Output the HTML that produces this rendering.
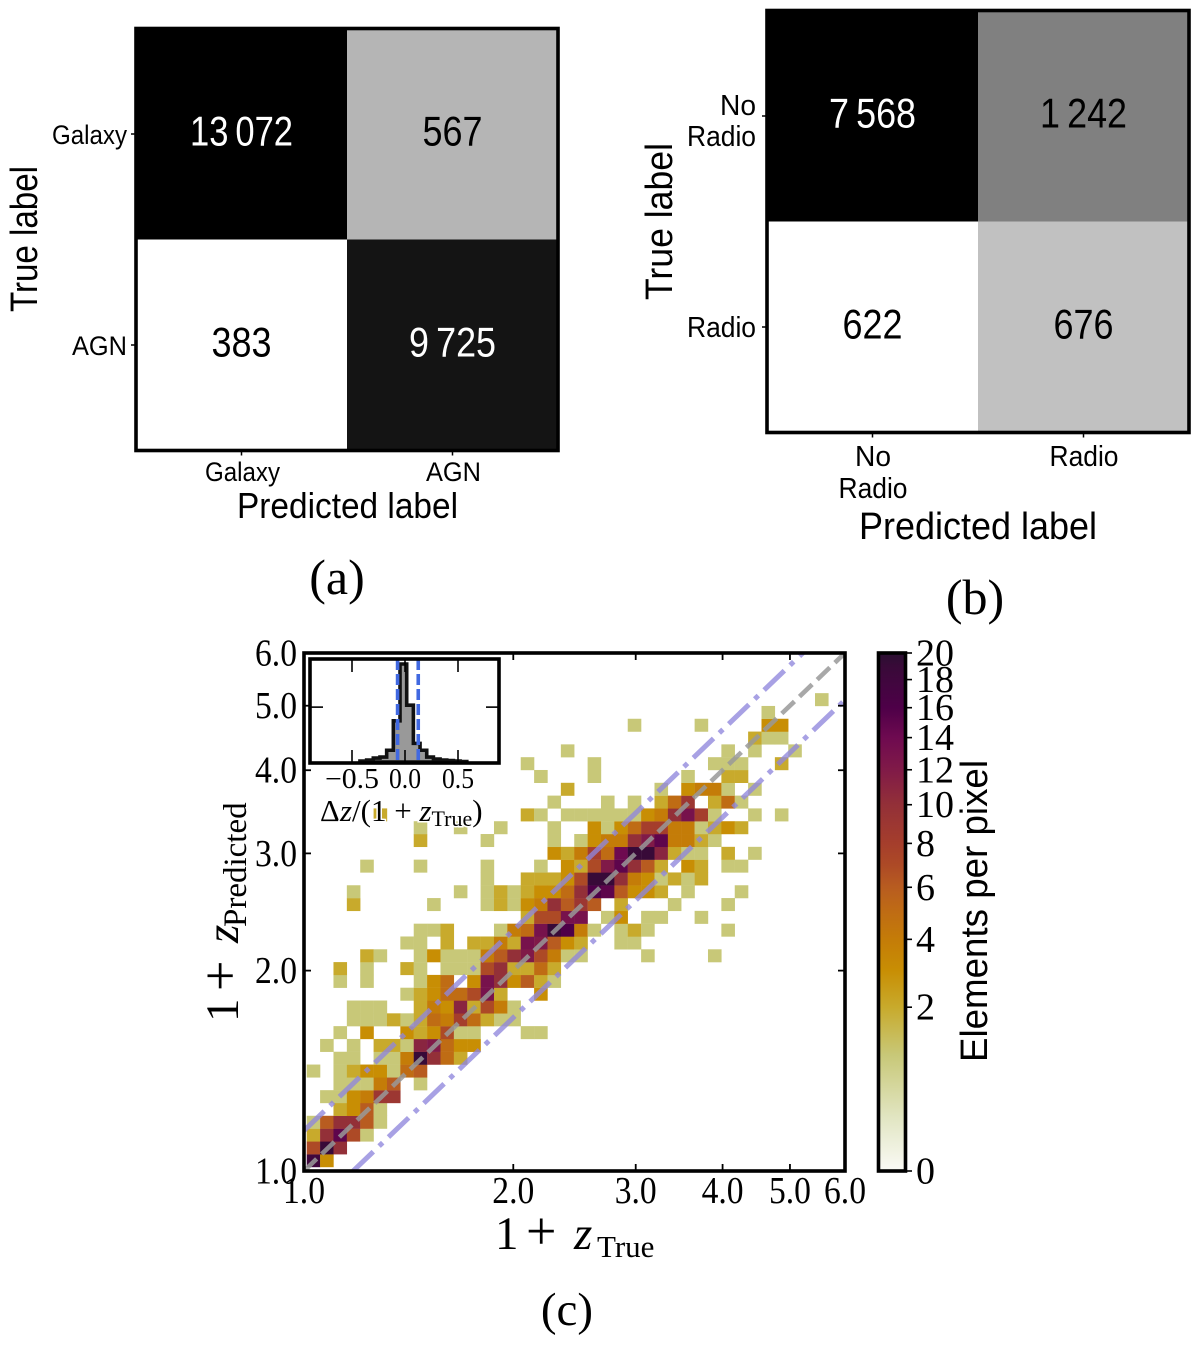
<!DOCTYPE html>
<html lang="en">
<head>
<meta charset="utf-8">
<title>Confusion matrices and redshift density plot</title>
<style>
html,body{margin:0;padding:0;background:#fff;}
svg{display:block;}
.sans{font-family:"Liberation Sans",sans-serif;}
.serif{font-family:"Liberation Serif",serif;}
</style>
</head>
<body>
<svg id="fig" xmlns="http://www.w3.org/2000/svg" width="1200" height="1348" viewBox="0 0 1200 1348">
  <rect x="0" y="0" width="1200" height="1348" fill="#fff"/>
  <g id="matrixA"></g>
  <g id="matrixB"></g>

  <text class="sans" x="0" y="0" transform="translate(37,312) rotate(-90)" font-size="38" textLength="146" lengthAdjust="spacingAndGlyphs">True label</text>
  <text class="sans" x="237" y="518" font-size="36" textLength="221" lengthAdjust="spacingAndGlyphs">Predicted label</text>
  <text class="serif" x="337" y="594" font-size="50" text-anchor="middle">(a)</text>

  <text class="sans" x="0" y="0" transform="translate(672,300) rotate(-90)" font-size="38" textLength="157" lengthAdjust="spacingAndGlyphs">True label</text>
  <text class="sans" x="859" y="539" font-size="38" textLength="238" lengthAdjust="spacingAndGlyphs">Predicted label</text>
  <text class="serif" x="975" y="614" font-size="50" text-anchor="middle">(b)</text>

  <defs>
    <clipPath id="plotClip"><rect x="304" y="653" width="541" height="518"/></clipPath>
    <clipPath id="insetClip"><rect x="310" y="659" width="189" height="104"/></clipPath>
    <linearGradient id="cbarGradient" x1="0" y1="1" x2="0" y2="0"></linearGradient>
  </defs>

  <g id="heatmap"></g>
  <g id="refLines" clip-path="url(#plotClip)"></g>
  <g id="mainTicks"></g>
  <rect x="304" y="653" width="541" height="518" fill="none" stroke="#000" stroke-width="3.6"/>

  <text class="serif" y="1249" font-size="47"><tspan x="495">1</tspan><tspan x="526" font-size="54">+</tspan><tspan x="574" font-style="italic">z</tspan><tspan x="597" dy="8" font-size="31">True</tspan></text>
  <text class="serif" y="0" font-size="47" transform="translate(238,1022) rotate(-90)"><tspan x="0">1</tspan><tspan x="31" font-size="54">+</tspan><tspan x="79" font-style="italic">z</tspan><tspan x="95" dy="8" font-size="33">Predicted</tspan></text>
  <text class="serif" x="567" y="1325" font-size="47" text-anchor="middle">(c)</text>

  <g id="inset"></g>
  <text class="serif" x="320" y="821" font-size="31" stroke="#fff" stroke-width="3" paint-order="stroke">Δ<tspan font-style="italic">z</tspan>/(1 + <tspan font-style="italic">z</tspan><tspan dy="5" font-size="22">True</tspan><tspan dy="-5">)</tspan></text>

  <g id="colorbar"></g>
  <text class="sans" x="0" y="0" transform="translate(987,1062) rotate(-90)" font-size="38" textLength="302" lengthAdjust="spacingAndGlyphs">Elements per pixel</text>
</svg>
<script>
// ---- Confusion matrix data ----
const matrixACounts = [["13\u2009072","567"],["383","9\u2009725"]];
const matrixALabels = ["Galaxy","AGN"];
const matrixAShades = [[0,0.71],[1,0.08]];
const matrixBCounts = [["7\u2009568","1\u2009242"],["622","676"]];
const matrixBLabels = [["No","Radio"],["Radio"]];
const matrixBShades = [[0,0.5],[1,0.755]];

// ---- Density heatmap data: one entry per predicted-bin row (bottom to top) ----
const cellColumns = [
 [0,1],
 [0,1,2],
 [0,1,2,3,4],
 [0,1,2,3,4,5],
 [2,3,4,5],
 [1,2,3,4,5,6],
 [2,3,4,5,6,8],
 [0,2,3,4,5,6,7,8],
 [2,3,5,6,7,8,9,10,11],
 [1,3,5,6,7,8,9,10,11,12],
 [2,4,7,8,9,10,11,12,16,17],
 [3,4,5,6,7,8,9,10,11,12,13,14,15],
 [3,4,5,8,9,10,11,12,13,14,15],
 [7,8,9,10,11,12,13,14,17],
 [2,4,8,9,10,12,13,14,15,16,17,18],
 [2,4,7,8,10,11,12,13,14,15,16,17,18],
 [4,5,8,9,10,11,12,13,14,15,16,17,18,19,20,25,30],
 [7,8,10,12,13,14,15,16,17,18,19,20,23,24],
 [8,9,10,14,15,16,17,18,19,20,21,23,24,25,31],
 [16,17,18,19,20,22,23,25,26,29],
 [3,9,13,14,15,16,17,18,19,20,21,23,27,31],
 [3,11,13,14,15,16,17,18,19,20,21,22,23,24,25,26,28,32],
 [13,16,17,18,19,20,21,22,23,24,25,26,27,28,29],
 [4,8,13,17,19,20,21,22,23,24,25,26,28,29,31,32],
 [18,19,20,21,22,23,24,25,26,27,28,29,31,33],
 [8,13,18,20,21,22,23,24,25,26,27,28,29,30],
 [8,11,14,18,21,22,23,24,25,26,27,28,29,30,31,32],
 [5,16,17,19,20,21,22,23,24,25,26,27,28,29,30,33,35],
 [18,22,24,26,27,28,30,31,32],
 [19,26,28,29,30,31,33],
 [17,21,28,31,32],
 [16,21,30,31,32,35],
 [19,31,33,36],
 [33,34,35],
 [24,29,34,35],
 [34],
 [38]
];
const cellCounts = [
 [18,3],
 [7,19,10],
 [2,10,15,7,1],
 [1,6,10,10,6,1],
 [2,3,6,1],
 [1,1,3,4,9,9],
 [1,1,1,4,6,1],
 [1,1,2,3,3,1,5,6],
 [1,1,1,1,4,19,10,5,2],
 [1,1,2,2,1,11,12,5,3,3],
 [1,3,3,2,3,7,1,1,1,1],
 [1,1,1,2,1,2,5,4,8,5,2,1,1],
 [1,1,1,2,4,3,11,2,7,4,1],
 [1,2,3,5,5,7,13,2,3],
 [1,1,1,3,5,3,13,10,3,6,2,1],
 [2,1,2,1,1,1,1,7,10,2,2,5,2],
 [2,1,1,3,1,1,1,4,6,10,12,7,4,1,1,1,1],
 [1,1,2,2,2,4,2,13,12,6,3,2,1,1],
 [1,1,2,1,4,5,13,19,16,4,1,1,2,1,1],
 [2,7,7,13,13,1,3,1,1,1],
 [2,1,1,2,1,3,4,10,6,9,6,2,1,1],
 [1,1,1,2,1,2,3,3,5,10,16,15,6,3,3,2,1,1],
 [1,2,2,2,3,7,19,19,10,4,3,1,2,1,2],
 [1,1,1,1,3,2,7,12,15,10,6,2,3,2,1,1],
 [3,2,4,8,5,14,19,19,11,2,1,1,2,1],
 [2,1,1,1,3,4,4,10,12,15,4,4,2,1],
 [1,1,1,1,3,1,3,5,8,8,4,4,1,2,3,2],
 [2,2,1,1,1,1,1,1,1,3,4,10,13,8,1,1,1],
 [1,1,1,2,5,9,2,5,1],
 [2,1,3,4,4,1,1],
 [1,1,1,2,2],
 [1,1,1,1,1,2],
 [1,1,1,1],
 [2,1,1],
 [1,1,3,3],
 [1],
 [1]
];

// ---- Axis ticks ----
const xTickValues = [1,2,3,4,5,6];
const xTickLabels = ["1.0","2.0","3.0","4.0","5.0","6.0"];
const yTickValues = [1,2,3,4,5,6];
const yTickLabels = ["1.0","2.0","3.0","4.0","5.0","6.0"];
const colorbarTicks = [0,2,4,6,8,10,12,14,16,18,20];

// ---- Reference lines: predicted = slope * true ----
const identitySlope = [1];
const outlierSlopes = [1.15,0.85];

// ---- Inset histogram ----
const histStart = [-0.425];
const histBinWidth = [0.063];
const histValues = [1,2,4,5,12,42,100,58,19,12,5,3,2,1.5,1,0.5];
const insetXTicks = [-0.5,0,0.5];
const insetXTickLabels = ["\u22120.5","0.0","0.5"];
const insetYTicks = [56];
const insetThresholds = [-0.07,0.125];

// ---- Axis functions ----
const SVGNS = 'http://www.w3.org/2000/svg';
function make(parent, tag, attrs, text){
  const node = document.createElementNS(SVGNS, tag);
  for (const k in attrs) node.setAttribute(k, attrs[k]);
  if (text !== undefined) node.textContent = text;
  parent.appendChild(node);
  return node;
}
function xAxis(v){ return 304 + 541 * Math.log(v) / Math.log(6); }
function yAxis(v){ return 1171 - 518 * Math.log(v) / Math.log(6); }
const binLog = 0.0443;
function xEdge(c){ return Math.exp(0.009 + binLog * c); }
function yEdge(r){ return Math.exp(0.0138 + binLog * r); }
function colorNorm(v){ return Math.sqrt(v / 20); }
function cbarY(v){ return 1171 - 518 * colorNorm(v); }
function insetX(v){ return 405 + 106 * v; }
function insetY(h){ return 762 - 0.98 * h; }

const cmapStops = [
 [0,[250,250,246]],[0.1,[226,230,196]],[0.2236,[200,200,120]],[0.316,[200,170,44]],
 [0.387,[200,142,4]],[0.447,[196,124,8]],[0.5,[191,108,20]],[0.548,[184,92,32]],
 [0.59,[173,74,38]],[0.632,[165,62,44]],[0.707,[147,48,56]],[0.775,[128,26,72]],
 [0.837,[110,10,80]],[0.894,[78,0,72]],[0.975,[56,10,56]],[1,[42,16,48]]
];
function cmap(t){
  for (let i = 1; i < cmapStops.length; i++){
    const a = cmapStops[i-1], b = cmapStops[i];
    if (t <= b[0]){
      const f = (t - a[0]) / (b[0] - a[0]);
      return 'rgb(' + [0,1,2].map(k => Math.round(a[1][k] + (b[1][k]-a[1][k]) * f)).join(',') + ')';
    }
  }
  return 'rgb(42,16,48)';
}

// ---- Confusion matrices ----
function drawMatrix(group, box, counts, shades, prefix){
  const w = box.size / 2;
  for (let r = 0; r < 2; r++){
    for (let c = 0; c < 2; c++){
      const g = Math.round(255 * shades[r][c]);
      const cell = make(group, 'rect', {x: box.x + c*w, y: box.y + r*w, width: w, height: w, fill: 'rgb('+g+','+g+','+g+')'});
      
      
      const str = counts[r][c];
      const len = str.replace('\u2009','').length >= 5 ? 103 : (str.length === 5 ? 87 : 60);
      const t = make(group, 'text', {class:'sans', x: box.x + c*w + w/2, y: box.y + r*w + box.textDrop, 'font-size': 42, 'text-anchor':'middle', textLength: len, lengthAdjust:'spacingAndGlyphs', fill: shades[r][c] < 0.4 ? '#fff' : '#000'}, str);
      
      
    }
  }
  const frame = make(group, 'rect', {x: box.x, y: box.y, width: box.size, height: box.size, fill:'none', stroke:'#000', 'stroke-width':3.6});
  
  
  for (let i = 0; i < 2; i++){
    const p = w * i + w / 2;
    const yt = make(group, 'line', {x1: box.x-5, x2: box.x, y1: box.y+p, y2: box.y+p, stroke:'#000', 'stroke-width':1.5});
    
    
    const xt = make(group, 'line', {x1: box.x+p, x2: box.x+p, y1: box.y+box.size, y2: box.y+box.size+5, stroke:'#000', 'stroke-width':1.5});
    
    
  }
}
const gA = document.getElementById('matrixA');
const gB = document.getElementById('matrixB');
drawMatrix(gA, {x:136, y:28.5, size:422, textDrop:117}, matrixACounts, matrixAShades, 'matrix-a');
drawMatrix(gB, {x:767, y:10.5, size:422, textDrop:117}, matrixBCounts, matrixBShades, 'matrix-b');

matrixALabels.forEach(function(label, i){
  const widths = label.length > 3 ? 75 : 55;
  const yl = make(gA, 'text', {class:'sans', x:127, y:144 + 211*i, 'font-size':27, 'text-anchor':'end', textLength:widths, lengthAdjust:'spacingAndGlyphs'}, label);
  
  
  const xl = make(gA, 'text', {class:'sans', x:242.5 + 211*i, y:481, 'font-size':27, 'text-anchor':'middle', textLength:widths, lengthAdjust:'spacingAndGlyphs'}, label);
  
  
});
matrixBLabels.forEach(function(lines, i){
  lines.forEach(function(label, j){
    const widths = label.length > 2 ? 69 : 36;
    const yTop = lines.length > 1 ? 115 : 337;
    const yl = make(gB, 'text', {class:'sans', x:756, y:yTop + 31*j, 'font-size':29, 'text-anchor':'end', textLength:widths, lengthAdjust:'spacingAndGlyphs'}, label);
    
    
    const xl = make(gB, 'text', {class:'sans', x:873 + 211*i, y:466 + 32*j, 'font-size':29, 'text-anchor':'middle', textLength:widths, lengthAdjust:'spacingAndGlyphs'}, label);
    
    
  });
});

// ---- Heatmap cells ----
const heat = document.getElementById('heatmap');
cellColumns.forEach(function(cols, r){
  cols.forEach(function(c, i){
    const x0 = xAxis(xEdge(c)), x1 = xAxis(xEdge(c + 1));
    const yBottom = yAxis(yEdge(r)), yTop = yAxis(yEdge(r + 1));
    const cell = make(heat, 'rect', {x:x0, y:yTop, width:x1-x0+0.2, height:yBottom-yTop+0.2, fill:cmap(colorNorm(cellCounts[r][i]))});
    
    
  });
});

// ---- Reference lines ----
const lineGroup = document.getElementById('refLines');
function refLine(slope, attrs){
  const startX = Math.max(1, 1 / slope);
  const endX = 6;
  return make(lineGroup, 'line', Object.assign({
    x1:xAxis(startX), y1:yAxis(slope*startX), x2:xAxis(endX), y2:yAxis(slope*endX)
  }, attrs));
}
outlierSlopes.forEach(function(s){
  const l = refLine(s, {stroke:'#8f86dc', 'stroke-opacity':0.78, 'stroke-width':5, 'stroke-dasharray':'28 8 5 8'});
  
  
});
identitySlope.forEach(function(s){
  const l = refLine(s, {stroke:'#999', 'stroke-opacity':0.85, 'stroke-width':4.6, 'stroke-dasharray':'17.5 7'});
  
  
});

// ---- Main ticks and labels ----
const tickGroup = document.getElementById('mainTicks');
xTickValues.forEach(function(v, i){
  const x = xAxis(v);
  const bottom = make(tickGroup, 'line', {x1:x, x2:x, y1:1171, y2:1164, stroke:'#000', 'stroke-width':1.8});
  
  
  const top = make(tickGroup, 'line', {x1:x, x2:x, y1:653, y2:660, stroke:'#000', 'stroke-width':1.8});
  
  
  const label = make(tickGroup, 'text', {class:'serif', x:x, y:1203, 'font-size':38, 'text-anchor':'middle', textLength:42, lengthAdjust:'spacingAndGlyphs'}, xTickLabels[i]);
  
  
});
yTickValues.forEach(function(v, i){
  const y = yAxis(v);
  const left = make(tickGroup, 'line', {x1:304, x2:311, y1:y, y2:y, stroke:'#000', 'stroke-width':1.8});
  
  
  const right = make(tickGroup, 'line', {x1:845, x2:838, y1:y, y2:y, stroke:'#000', 'stroke-width':1.8});
  
  
  const label = make(tickGroup, 'text', {class:'serif', x:297, y:y+12.5, 'font-size':38, 'text-anchor':'end', textLength:42, lengthAdjust:'spacingAndGlyphs'}, yTickLabels[i]);
  
  
});

// ---- Inset histogram ----
const inset = document.getElementById('inset');
const insetBg = make(inset, 'rect', {x:310, y:659, width:189, height:104, fill:'#fff'});


let histPath = 'M' + insetX(histStart[0]) + ' ' + insetY(0);
histValues.forEach(function(h, i){
  const x0 = insetX(histStart[0] + i * histBinWidth[0]);
  const x1 = insetX(histStart[0] + (i + 1) * histBinWidth[0]);
  histPath += ' L' + x0 + ' ' + insetY(h) + ' L' + x1 + ' ' + insetY(h);
});
histPath += ' L' + insetX(histStart[0] + histValues.length * histBinWidth[0]) + ' ' + insetY(0) + ' Z';
const hist = make(inset, 'path', {d:histPath, fill:'#999', stroke:'#111', 'stroke-width':3.6, 'stroke-linejoin':'miter', 'clip-path':'url(#insetClip)'});


insetThresholds.forEach(function(v){
  const l = make(inset, 'line', {x1:insetX(v), x2:insetX(v), y1:659, y2:763, stroke:'#4169e1', 'stroke-width':3.6, 'stroke-dasharray':'11 4'});
  
  
});
insetXTicks.forEach(function(v, i){
  const x = insetX(v);
  const tk = make(inset, 'line', {x1:x, x2:x, y1:659, y2:672, stroke:'#000', 'stroke-width':1.6});
  
  
  const bt = make(inset, 'line', {x1:x, x2:x, y1:763, y2:750, stroke:'#000', 'stroke-width':1.6});
  
  
  const str = insetXTickLabels[i];
  const lb = make(inset, 'text', {class:'serif', x:x, y:788, 'font-size':28, 'text-anchor':'middle', textLength: str.length === 3 ? 32 : 54, lengthAdjust:'spacingAndGlyphs'}, str);
  
  
});
insetYTicks.forEach(function(h){
  const y = insetY(h);
  const lt = make(inset, 'line', {x1:310, x2:323, y1:y, y2:y, stroke:'#000', 'stroke-width':1.6});
  
  
  const rt = make(inset, 'line', {x1:499, x2:486, y1:y, y2:y, stroke:'#000', 'stroke-width':1.6});
  
  
});
const insetFrame = make(inset, 'rect', {x:310, y:659, width:189, height:104, fill:'none', stroke:'#000', 'stroke-width':3.6});



// ---- Colorbar ----
const grad = document.getElementById('cbarGradient');
cmapStops.forEach(function(s){
  make(grad, 'stop', {offset:s[0], 'stop-color':'rgb(' + s[1].join(',') + ')'});
});
const cbar = document.getElementById('colorbar');
const ramp = make(cbar, 'rect', {x:878.5, y:653, width:27, height:518, fill:'url(#cbarGradient)', stroke:'#000', 'stroke-width':3.6});


colorbarTicks.forEach(function(v){
  const y = cbarY(v);
  const tk = make(cbar, 'line', {x1:906, x2:912, y1:y, y2:y, stroke:'#000', 'stroke-width':1.6});
  
  
  const lb = make(cbar, 'text', {class:'serif', x:916, y:y+12.5, 'font-size':38}, String(v));
  
  
});
</script>
</body>
</html>
